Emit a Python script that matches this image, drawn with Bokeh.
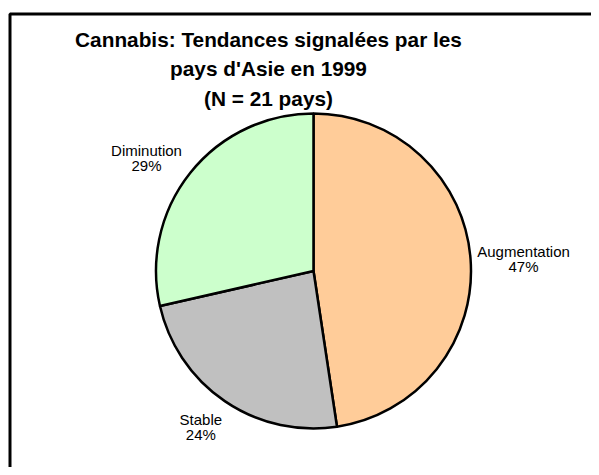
import math
from bokeh.plotting import figure
from bokeh.models import Range1d, ColumnDataSource
from bokeh.core.properties import value
from bokeh.embed import file_html
from bokeh.resources import INLINE

# ---- data ----
categories = ["Augmentation", "Stable", "Diminution"]
counts = [10, 5, 6]
pct_labels = ["47%", "24%", "29%"]
colors = ["#FFCC99", "#C0C0C0", "#CCFFCC"]
title_lines = ["Cannabis: Tendances signalées par les",
               "pays d'Asie en 1999",
               "(N = 21 pays)"]

# ---- layout ----
W, H = 591, 467
FONT = "Liberation Sans"
TXT_DY = 8  # baseline correction for text placement


def px(X):
    return X


def py(Y):
    return H - Y


p = figure(width=W, height=H, x_range=Range1d(0, W), y_range=Range1d(0, H),
           output_backend="svg", toolbar_location=None, min_border=0)
p.axis.visible = False
p.grid.visible = False
p.outline_line_color = None
p.background_fill_color = "white"
p.border_fill_color = "white"

# frame box (cut off at right/bottom like the reference)
p.quad(left=[px(9.5)], right=[px(800)], top=[py(13.5)], bottom=[py(700)],
       fill_color=None, line_color="black", line_width=3)

# pie
cx, cy, R = px(313), py(270.5), 157.5
total = sum(counts)
starts, ends, mids = [], [], []
cum = 0.0
for c in counts:
    a0 = math.pi / 2 - 2 * math.pi * (cum + c) / total
    a1 = math.pi / 2 - 2 * math.pi * cum / total
    starts.append(a0)
    ends.append(a1)
    mids.append((a0 + a1) / 2)
    cum += c

src = ColumnDataSource(dict(start=starts, end=ends, color=colors))
p.wedge(x=cx, y=cy, radius=R, start_angle="start", end_angle="end",
        fill_color="color", line_color="black", line_width=2.5, source=src)

# labels
r_lab = 200
nudges = [(10.6, -3), (0, 9), (-10.6, -12)]
lx, ly_name, ly_pct = [], [], []
for m, (dx, dy) in zip(mids, nudges):
    x = cx + r_lab * math.cos(m) + dx
    y = cy + r_lab * math.sin(m) + dy + TXT_DY
    lx.append(x)
    ly_name.append(y)
    ly_pct.append(y - 15.5)

p.text(x=lx, y=ly_name, text=categories, text_font=value(FONT),
       text_font_size="15px", text_align="center",
       text_baseline="alphabetic", text_color="black")
p.text(x=lx, y=ly_pct, text=pct_labels, text_font=value(FONT),
       text_font_size="15px", text_align="center",
       text_baseline="alphabetic", text_color="black")

# title
tb = [46.5, 76, 105.5]
p.text(x=[px(268)] * 3, y=[py(b) + TXT_DY for b in tb], text=title_lines,
       text_font=value(FONT), text_font_size="20.8px", text_font_style="bold",
       text_align="center", text_baseline="alphabetic", text_color="black")

open("out.html", "w").write(file_html(p, INLINE))
